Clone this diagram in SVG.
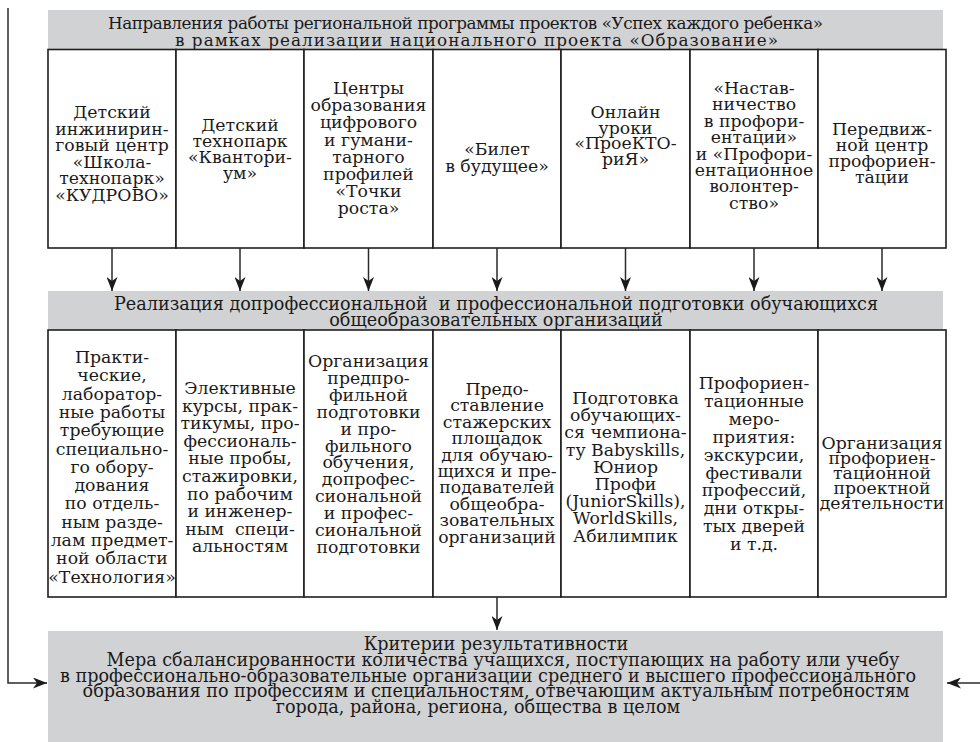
<svg xmlns="http://www.w3.org/2000/svg" width="980" height="742" viewBox="0 0 980 742">
<defs>
<style>
.bg{fill:#d1d2d4}
.box{fill:#fff;stroke:#1e1e1e;stroke-width:1.6}
.t{font-family:"DejaVu Serif","Liberation Serif",serif;font-size:17.3px;fill:#1a1a1a;text-anchor:middle}
.h{font-family:"DejaVu Serif","Liberation Serif",serif;font-size:17.6px;fill:#1a1a1a;text-anchor:middle}
.hs{font-family:"DejaVu Serif","Liberation Serif",serif;font-size:16.8px;fill:#1a1a1a}
.c{fill:none;stroke:#2a2a2a;stroke-width:1.5}
</style>
<marker id="ah" markerUnits="userSpaceOnUse" markerWidth="14" markerHeight="11" viewBox="0 0 14 11" refX="14" refY="5.5" orient="auto"><path d="M0,0 L14,5.5 L0,11 L4,5.5 Z" fill="#1a1a1a"/></marker>
</defs>
<rect width="980" height="742" fill="#fff"/>

<g id="header-top">
<rect class="bg" x="48" y="10" width="895" height="40"/>
<text class="hs" x="108" y="29" textLength="715">Направления работы региональной программы проектов «Успех каждого ребенка»</text>
<text class="hs" x="175" y="46" textLength="603">в рамках реализации национального проекта «Образование»</text>
</g>

<g id="top1"><rect class="box" x="48" y="49.5" width="128" height="198.5"/>
<text class="t" y="118"><tspan x="112">Детский</tspan><tspan x="112" dy="16.5">инжинирин-</tspan><tspan x="112" dy="16.5">говый центр</tspan><tspan x="112" dy="16.5">«Школа-</tspan><tspan x="112" dy="16.5">технопарк»</tspan><tspan x="112" dy="16.5">«КУДРОВО»</tspan></text></g>
<g id="top2"><rect class="box" x="176" y="49.5" width="128" height="198.5"/>
<text class="t" y="131"><tspan x="240">Детский</tspan><tspan x="240" dy="16">технопарк</tspan><tspan x="240" dy="16">«Квантори-</tspan><tspan x="240" dy="16">ум»</tspan></text></g>
<g id="top3"><rect class="box" x="304" y="49.5" width="129" height="198.5"/>
<text class="t" y="94"><tspan x="368.5">Центры</tspan><tspan x="368.5" dy="17.2">образования</tspan><tspan x="368.5" dy="17.2">цифрового</tspan><tspan x="368.5" dy="17.2">и гумани-</tspan><tspan x="368.5" dy="17.2">тарного</tspan><tspan x="368.5" dy="17.2">профилей</tspan><tspan x="368.5" dy="17.2">«Точки</tspan><tspan x="368.5" dy="17.2">роста»</tspan></text></g>
<g id="top4"><rect class="box" x="433" y="49.5" width="128" height="198.5"/>
<text class="t" y="155"><tspan x="497">«Билет</tspan><tspan x="497" dy="16.5">в будущее»</tspan></text></g>
<g id="top5"><rect class="box" x="561" y="49.5" width="129" height="198.5"/>
<text class="t" y="118"><tspan x="625.5">Онлайн</tspan><tspan x="625.5" dy="15.6">уроки</tspan><tspan x="625.5" dy="15.6">«ПроеКТО-</tspan><tspan x="625.5" dy="15.6">риЯ»</tspan></text></g>
<g id="top6"><rect class="box" x="690" y="49.5" width="128" height="198.5"/>
<text class="t" y="94"><tspan x="754">«Настав-</tspan><tspan x="754" dy="16.4">ничество</tspan><tspan x="754" dy="16.4">в профори-</tspan><tspan x="754" dy="16.4">ентации»</tspan><tspan x="754" dy="16.4">и «Профори-</tspan><tspan x="754" dy="16.4">ентационное</tspan><tspan x="754" dy="16.4">волонтер-</tspan><tspan x="754" dy="16.4">ство»</tspan></text></g>
<g id="top7"><rect class="box" x="818" y="49.5" width="128" height="198.5"/>
<text class="t" y="135"><tspan x="882">Передвиж-</tspan><tspan x="882" dy="16">ной центр</tspan><tspan x="882" dy="16">профориен-</tspan><tspan x="882" dy="16">тации</tspan></text></g>

<g id="header-mid">
<rect class="bg" x="48" y="291" width="895" height="39"/>
<text class="h" x="496" y="310" xml:space="preserve">Реализация допрофессиональной  и профессиональной подготовки обучающихся</text>
<text class="h" x="496" y="326">общеобразовательных организаций</text>
</g>

<g id="mid1"><rect class="box" x="48" y="330" width="128" height="267"/>
<text class="t" y="363"><tspan x="112">Практи-</tspan><tspan x="112" dy="18.3">ческие,</tspan><tspan x="112" dy="18.3">лаборатор-</tspan><tspan x="112" dy="18.3">ные работы</tspan><tspan x="112" dy="18.3">требующие</tspan><tspan x="112" dy="18.3">специально-</tspan><tspan x="112" dy="18.3">го обору-</tspan><tspan x="112" dy="18.3">дования</tspan><tspan x="112" dy="18.3">по отдель-</tspan><tspan x="112" dy="18.3">ным разде-</tspan><tspan x="112" dy="18.3">лам предмет-</tspan><tspan x="112" dy="18.3">ной области</tspan><tspan x="112" dy="18.3">«Технология»</tspan></text></g>
<g id="mid2"><rect class="box" x="176" y="330" width="128" height="267"/>
<text class="t" y="394"><tspan x="240">Элективные</tspan><tspan x="240" dy="17.6">курсы, прак-</tspan><tspan x="240" dy="17.6">тикумы, про-</tspan><tspan x="240" dy="17.6">фессиональ-</tspan><tspan x="240" dy="17.6">ные пробы,</tspan><tspan x="240" dy="17.6">стажировки,</tspan><tspan x="240" dy="17.6">по рабочим</tspan><tspan x="240" dy="17.6">и инженер-</tspan><tspan x="240" dy="17.6" xml:space="preserve">ным  специ-</tspan><tspan x="240" dy="17.6">альностям</tspan></text></g>
<g id="mid3"><rect class="box" x="304" y="330" width="129" height="267"/>
<text class="t" y="367"><tspan x="368.5">Организация</tspan><tspan x="368.5" dy="16.9">предпро-</tspan><tspan x="368.5" dy="16.9">фильной</tspan><tspan x="368.5" dy="16.9">подготовки</tspan><tspan x="368.5" dy="16.9">и про-</tspan><tspan x="368.5" dy="16.9">фильного</tspan><tspan x="368.5" dy="16.9">обучения,</tspan><tspan x="368.5" dy="16.9">допрофес-</tspan><tspan x="368.5" dy="16.9">сиональной</tspan><tspan x="368.5" dy="16.9">и профес-</tspan><tspan x="368.5" dy="16.9">сиональной</tspan><tspan x="368.5" dy="16.9">подготовки</tspan></text></g>
<g id="mid4"><rect class="box" x="433" y="330" width="128" height="267"/>
<text class="t" y="395"><tspan x="497">Предо-</tspan><tspan x="497" dy="16.4">ставление</tspan><tspan x="497" dy="16.4">стажерских</tspan><tspan x="497" dy="16.4">площадок</tspan><tspan x="497" dy="16.4">для обучаю-</tspan><tspan x="497" dy="16.4">щихся и пре-</tspan><tspan x="497" dy="16.4">подавателей</tspan><tspan x="497" dy="16.4">общеобра-</tspan><tspan x="497" dy="16.4">зовательных</tspan><tspan x="497" dy="16.4">организаций</tspan></text></g>
<g id="mid5"><rect class="box" x="561" y="330" width="129" height="267"/>
<text class="t" y="404"><tspan x="625.5">Подготовка</tspan><tspan x="625.5" dy="17.2">обучающих-</tspan><tspan x="625.5" dy="17.2">ся чемпиона-</tspan><tspan x="625.5" dy="17.2">ту Babyskills,</tspan><tspan x="625.5" dy="17.2">Юниор</tspan><tspan x="625.5" dy="17.2">Профи</tspan><tspan x="625.5" dy="17.2">(JuniorSkills),</tspan><tspan x="625.5" dy="17.2">WorldSkills,</tspan><tspan x="625.5" dy="17.2">Абилимпик</tspan></text></g>
<g id="mid6"><rect class="box" x="690" y="330" width="128" height="267"/>
<text class="t" y="389"><tspan x="754">Профориен-</tspan><tspan x="754" dy="17.9">тационные</tspan><tspan x="754" dy="17.9">меро-</tspan><tspan x="754" dy="17.9">приятия:</tspan><tspan x="754" dy="17.9">экскурсии,</tspan><tspan x="754" dy="17.9">фестивали</tspan><tspan x="754" dy="17.9">профессий,</tspan><tspan x="754" dy="17.9">дни откры-</tspan><tspan x="754" dy="17.9">тых дверей</tspan><tspan x="754" dy="17.9">и т.д.</tspan></text></g>
<g id="mid7"><rect class="box" x="818" y="330" width="128" height="267"/>
<text class="t" y="449"><tspan x="882">Организация</tspan><tspan x="882" dy="15">профориен-</tspan><tspan x="882" dy="15">тационной</tspan><tspan x="882" dy="15">проектной</tspan><tspan x="882" dy="15">деятельности</tspan></text></g>

<g id="criteria">
<rect class="bg" x="48" y="631" width="895" height="111"/>
<text class="h" x="496" y="650">Критерии результативности</text>
<text class="h" x="503" y="666">Мера сбалансированности количества учащихся, поступающих на работу или учебу</text>
<text class="h" x="488" y="682">в профессионально-образовательные организации среднего и высшего профессионального</text>
<text class="h" x="496" y="697">образования по профессиям и специальностям, отвечающим актуальным потребностям</text>
<text class="h" x="478" y="713">города, района, региона, общества в целом</text>
</g>

<g id="connectors">
<line class="c" x1="112" y1="248" x2="112" y2="291" marker-end="url(#ah)"/>
<line class="c" x1="240" y1="248" x2="240" y2="291" marker-end="url(#ah)"/>
<line class="c" x1="368.5" y1="248" x2="368.5" y2="291" marker-end="url(#ah)"/>
<line class="c" x1="497" y1="248" x2="497" y2="291" marker-end="url(#ah)"/>
<line class="c" x1="625.5" y1="248" x2="625.5" y2="291" marker-end="url(#ah)"/>
<line class="c" x1="754" y1="248" x2="754" y2="291" marker-end="url(#ah)"/>
<line class="c" x1="882" y1="248" x2="882" y2="291" marker-end="url(#ah)"/>
<line class="c" x1="497" y1="597" x2="497" y2="630" marker-end="url(#ah)"/>
<path class="c" d="M8,8 V683 H47" marker-end="url(#ah)"/>
<path class="c" d="M980,683 H947" marker-end="url(#ah)"/>
</g>
</svg>
